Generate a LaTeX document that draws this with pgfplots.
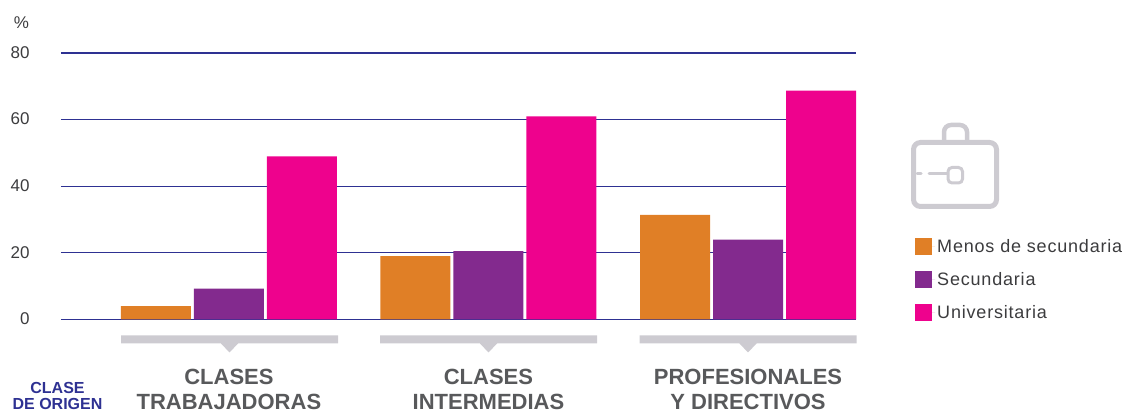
\documentclass[border=0pt]{standalone}
\usepackage{pgfplots}
\pgfplotsset{compat=1.18}
\usepackage{fontspec}
\setmainfont{Liberation Sans}
\newfontface\leyenda[LetterSpace=4.5]{Liberation Sans}
\definecolor{naranja}{HTML}{E07F26}
\definecolor{morado}{HTML}{832A8E}
\definecolor{rosa}{HTML}{EE028D}
\definecolor{linea}{HTML}{2E3192}
\definecolor{gris}{HTML}{CDCBD1}
\definecolor{grisosc}{HTML}{58595B}
\definecolor{texto}{HTML}{3C3C3E}
\pgfplotstableread{
x menos secundaria universitaria
0 4 9.3 49
1 19 20.5 61
2 31.4 24 68.7
}\datos
\begin{document}
\begin{tikzpicture}[x=1pt,y=-1pt]
\useasboundingbox (0,0) rectangle (1125,411);
\begin{axis}[
	at={(61pt,-319.5pt)}, anchor=south west,
	scale only axis, width=795pt, height=266.5pt,
	xmin=-0.647, xmax=2.416, ymin=0, ymax=80,
	ybar=3pt, bar width=70pt,
	clip=false,
	axis line style={draw=none},
	major tick length=0pt,
	ytick={0,20,40,60,80},
	ymajorgrids,
	grid style={linea, line width=1.2pt},
	/pgf/number format/assume math mode=true,
	yticklabel style={font=\fontsize{17}{18}\selectfont, text=texto, xshift=-28pt, yshift=0.5pt},
	xtick={0,1,2},
	xticklabels={CLASES\\TRABAJADORAS,CLASES\\INTERMEDIAS,PROFESIONALES\\Y DIRECTIVOS},
	xticklabel style={font=\fontsize{22}{25}\selectfont\bfseries, text=grisosc, align=center, anchor=north, yshift=-46.5pt},
	legend style={draw=none, fill=none, at={(1.0742,0.309)}, anchor=north west, font=\fontsize{18}{20}\selectfont\leyenda, text=texto, row sep=14.5pt, inner sep=0pt, cells={anchor=west}},
	legend cell align=left,
	legend image code/.code={\fill[#1] (0pt,-8.5pt) rectangle (17pt,8.5pt); \path (0pt,0pt) -- (20pt,0pt);},
]
\addplot[draw=none, fill=naranja] table[x=x, y=menos] {\datos};
\addplot[draw=none, fill=morado] table[x=x, y=secundaria] {\datos};
\addplot[draw=none, fill=rosa] table[x=x, y=universitaria] {\datos};
\legend{Menos de secundaria, Secundaria, Universitaria}
\end{axis}
% corchetes
\foreach \a in {121,380,639.5}{
	\fill[gris] (\a,335.5) rectangle ++(217,8) (\a+100,343.5) -- ++(8.5,9) -- ++(8.5,-9) -- cycle;
}
\node[font=\fontsize{17}{18}\selectfont] at (21.5,23) [text=texto] {\%};
\node[font=\fontsize{16}{16.5}\selectfont\bfseries, text=linea, align=center] at (57.5,396) {CLASE\\DE ORIGEN};
% maletin
\begin{scope}[gris, line cap=round]
	\draw[line width=5pt, rounded corners=7pt] (913.5,142.5) rectangle (996.5,206.5);
	\draw[line width=4.5pt, rounded corners=7pt] (944,142) -- (944,125) -- (967,125) -- (967,142);
	\draw[line width=3pt] (917,173.5) -- (921,173.5) (929,173.5) -- (947,173.5);
	\draw[line width=3pt, rounded corners=4pt] (948,167.5) rectangle (962.5,183);
\end{scope}
\end{tikzpicture}
\end{document}
